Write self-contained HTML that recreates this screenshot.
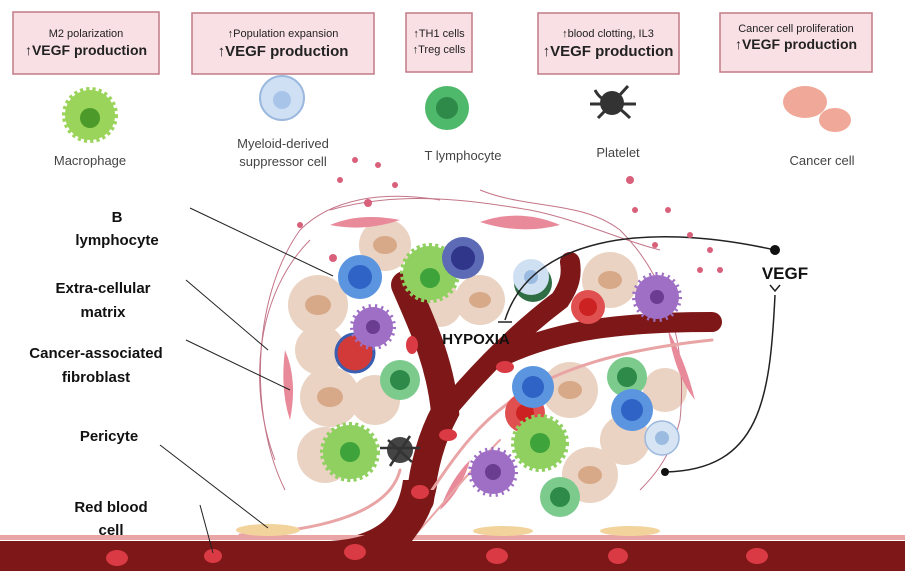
<!DOCTYPE html>
<html><head><meta charset="utf-8"><style>
body{margin:0;background:#fff}
svg{display:block;font-family:"Liberation Sans",sans-serif}
</style></head><body>
<svg width="905" height="571" viewBox="0 0 905 571" xmlns="http://www.w3.org/2000/svg">
<rect width="905" height="571" fill="#fff"/>
<g fill="#f9e0e4" stroke="#c27a86" stroke-width="1.5">
<rect x="13" y="12" width="146" height="62"/>
<rect x="192" y="13" width="182" height="61"/>
<rect x="406" y="13" width="66" height="59"/>
<rect x="538" y="13" width="141" height="61"/>
<rect x="720" y="13" width="152" height="59"/>
</g>
<g text-anchor="middle" fill="#222">
<text x="86" y="37" font-size="11">M2 polarization</text>
<text x="86" y="55" font-size="14" font-weight="bold">↑VEGF production</text>
<text x="283" y="37" font-size="11">↑Population expansion</text>
<text x="283" y="56" font-size="15" font-weight="bold">↑VEGF production</text>
<text x="439" y="37" font-size="11">↑TH1 cells</text>
<text x="439" y="53" font-size="11">↑Treg cells</text>
<text x="608" y="37" font-size="11">↑blood clotting, IL3</text>
<text x="608" y="56" font-size="15" font-weight="bold">↑VEGF production</text>
<text x="796" y="32" font-size="11">Cancer cell proliferation</text>
<text x="796" y="49" font-size="14" font-weight="bold">↑VEGF production</text>
<text x="90" y="165" font-size="13" fill="#444">Macrophage</text>
<text x="283" y="148" font-size="13" fill="#444">Myeloid-derived</text>
<text x="283" y="166" font-size="13" fill="#444">suppressor cell</text>
<text x="463" y="160" font-size="13" fill="#444">T lymphocyte</text>
<text x="618" y="157" font-size="13" fill="#444">Platelet</text>
<text x="822" y="165" font-size="13" fill="#444">Cancer cell</text>
</g>
<!-- top icons -->
<circle cx="90" cy="115" r="25" fill="#9bd45a" stroke="#9bd45a" stroke-width="6" stroke-dasharray="3 3"/><circle cx="90" cy="118" r="10" fill="#4c9a2a"/>
<circle cx="282" cy="98" r="22" fill="#cfe0f5" stroke="#9bb8de" stroke-width="2"/><circle cx="282" cy="100" r="9" fill="#a8c4e8"/>
<circle cx="447" cy="108" r="22" fill="#4eb86b"/><circle cx="447" cy="108" r="11" fill="#2e8a48"/>
<circle cx="612" cy="103" r="12" fill="#333"/>
<g stroke="#333" stroke-width="3" fill="none"><path d="M595 90 Q600 100 612 103 Q622 110 630 118"/><path d="M598 118 Q606 110 612 103 Q620 95 628 86"/><path d="M590 104 H636"/></g>
<ellipse cx="805" cy="102" rx="22" ry="16" fill="#f0a898"/><ellipse cx="835" cy="120" rx="16" ry="12" fill="#f0a898"/>
<!-- beige tumor cells -->
<g fill="#ead3c3">
<circle cx="385" cy="245" r="26"/><circle cx="318" cy="305" r="30"/><circle cx="320" cy="350" r="25"/><circle cx="330" cy="397" r="30"/>
<circle cx="325" cy="455" r="28"/><circle cx="480" cy="300" r="25"/><circle cx="440" cy="305" r="22"/><circle cx="610" cy="280" r="28"/>
<circle cx="570" cy="390" r="28"/><circle cx="590" cy="475" r="28"/><circle cx="625" cy="440" r="25"/><circle cx="375" cy="400" r="25"/><circle cx="665" cy="390" r="22"/>
</g>
<g fill="#d8a988">
<ellipse cx="385" cy="245" rx="12" ry="9"/><ellipse cx="318" cy="305" rx="13" ry="10"/><ellipse cx="330" cy="397" rx="13" ry="10"/><ellipse cx="610" cy="280" rx="12" ry="9"/><ellipse cx="570" cy="390" rx="12" ry="9"/><ellipse cx="590" cy="475" rx="12" ry="9"/><ellipse cx="480" cy="300" rx="11" ry="8"/>
</g>
<!-- ECM fibers -->
<g fill="none" stroke="#b5536b" stroke-width="1" opacity="0.8">
<path d="M285 490 C250 420 250 300 300 230 C330 200 380 190 440 200"/>
<path d="M275 460 C245 380 260 290 310 240"/>
<path d="M330 210 C400 190 470 200 530 210 C580 220 620 240 660 250"/>
<path d="M480 190 C530 210 580 200 620 230 C650 260 690 320 680 420 C670 460 650 480 640 490"/>
</g>
<g fill="#e98a9b">
<path d="M330 225 Q360 212 400 220 Q365 232 330 225Z"/><path d="M480 222 Q520 208 560 225 Q520 235 480 222Z"/>
<path d="M285 350 Q298 380 290 420 Q280 390 285 350Z"/><path d="M668 330 Q685 360 695 400 Q675 375 668 330Z"/>
<path d="M440 510 Q450 480 470 460 Q462 490 440 510Z"/>
</g>
<!-- vessels -->
<path d="M330 540 C380 535 398 515 403 480 L438 480 C434 510 420 525 412 540 Z" fill="#7e1717"/>
<g fill="none" stroke-linecap="round">
<path d="M420 500 C423 470 430 440 445 412 C440 360 420 320 405 285" stroke="#7e1717" stroke-width="28"/>
<path d="M445 412 C480 370 520 330 560 300 C570 285 572 275 570 262" stroke="#7e1717" stroke-width="20"/>
<path d="M505 355 C560 330 620 322 712 322" stroke="#7e1717" stroke-width="20"/>
<path d="M432 490 C480 420 520 360 712 340" stroke="#e9a5a5" stroke-width="3"/>
<path d="M400 470 C390 510 330 530 240 535" stroke="#e9a5a5" stroke-width="3"/>
<path d="M412 538 C430 520 470 470 500 440" stroke="#e9a5a5" stroke-width="2"/>
</g>
<rect x="0" y="541" width="905" height="30" fill="#7e1717"/>
<rect x="0" y="535" width="905" height="5" fill="#e9a5a5"/>
<path d="M330 541 C380 538 398 520 405 490 L436 490 C432 515 420 530 412 541 Z" fill="#7e1717"/>
<g fill="#d93a44">
<ellipse cx="117" cy="558" rx="11" ry="8"/><ellipse cx="213" cy="556" rx="9" ry="7"/><ellipse cx="355" cy="552" rx="11" ry="8"/><ellipse cx="497" cy="556" rx="11" ry="8"/><ellipse cx="618" cy="556" rx="10" ry="8"/><ellipse cx="757" cy="556" rx="11" ry="8"/>
<ellipse cx="420" cy="492" rx="9" ry="7"/><ellipse cx="448" cy="435" rx="9" ry="6"/><ellipse cx="412" cy="345" rx="6" ry="9"/><ellipse cx="505" cy="367" rx="9" ry="6"/>
</g>
<ellipse cx="268" cy="530" rx="32" ry="6" fill="#f2d39b"/>
<ellipse cx="503" cy="531" rx="30" ry="5" fill="#f2d39b"/>
<ellipse cx="630" cy="531" rx="30" ry="5" fill="#f2d39b"/>
<!-- cells -->
<circle cx="360" cy="277" r="22" fill="#5b95e0"/><circle cx="360" cy="277" r="12" fill="#2f63c5"/>
<circle cx="430" cy="273" r="27" fill="#8fd060" stroke="#8fd060" stroke-width="6" stroke-dasharray="3 3"/><circle cx="430" cy="278" r="10" fill="#3da33a"/>
<circle cx="463" cy="258" r="21" fill="#5d6ab5"/><circle cx="463" cy="258" r="12" fill="#30368a"/>
<circle cx="533" cy="283" r="19" fill="#2f6e45"/><circle cx="531" cy="277" r="18" fill="#cfe0f2"/><circle cx="531" cy="277" r="7" fill="#9bbce0"/>
<circle cx="588" cy="307" r="17" fill="#e05050"/><circle cx="588" cy="307" r="9" fill="#cc2222"/>
<circle cx="657" cy="297" r="22" fill="#9e6fc4" stroke="#9e6fc4" stroke-width="6" stroke-dasharray="2 4"/><circle cx="657" cy="297" r="7" fill="#6a3d91"/>
<circle cx="355" cy="353" r="19" fill="#d23a3a" stroke="#3a5fb0" stroke-width="3"/>
<circle cx="373" cy="327" r="20" fill="#9e6fc4" stroke="#9e6fc4" stroke-width="6" stroke-dasharray="2 4"/><circle cx="373" cy="327" r="7" fill="#6a3d91"/>
<circle cx="400" cy="380" r="20" fill="#7ccb8d"/><circle cx="400" cy="380" r="10" fill="#2e8a48"/>
<circle cx="350" cy="452" r="27" fill="#8fd060" stroke="#8fd060" stroke-width="6" stroke-dasharray="3 3"/><circle cx="350" cy="452" r="10" fill="#3da33a"/>
<circle cx="400" cy="450" r="13" fill="#444"/>
<g stroke="#333" stroke-width="2.5" fill="none"><path d="M380 448 H420"/><path d="M388 440 L412 462"/><path d="M410 436 L390 466"/></g>
<circle cx="525" cy="413" r="20" fill="#e05050"/><circle cx="525" cy="413" r="9" fill="#cc2222"/>
<circle cx="533" cy="387" r="21" fill="#5b95e0"/><circle cx="533" cy="387" r="11" fill="#2f63c5"/>
<circle cx="540" cy="443" r="26" fill="#8fd060" stroke="#8fd060" stroke-width="6" stroke-dasharray="3 3"/><circle cx="540" cy="443" r="10" fill="#3da33a"/>
<circle cx="493" cy="472" r="22" fill="#9e6fc4" stroke="#9e6fc4" stroke-width="6" stroke-dasharray="2 4"/><circle cx="493" cy="472" r="8" fill="#6a3d91"/>
<circle cx="560" cy="497" r="20" fill="#7ccb8d"/><circle cx="560" cy="497" r="10" fill="#2e8a48"/>
<circle cx="627" cy="377" r="20" fill="#7ccb8d"/><circle cx="627" cy="377" r="10" fill="#2e8a48"/>
<circle cx="632" cy="410" r="21" fill="#5b95e0"/><circle cx="632" cy="410" r="11" fill="#2f63c5"/>
<circle cx="662" cy="438" r="17" fill="#d6e4f4" stroke="#9bb8de" stroke-width="1.5"/><circle cx="662" cy="438" r="7" fill="#9bbce0"/>
<!-- labels -->
<g font-size="15" font-weight="bold" fill="#111" text-anchor="middle">
<text x="117" y="222">B</text><text x="117" y="245">lymphocyte</text>
<text x="103" y="293">Extra-cellular</text><text x="103" y="317">matrix</text>
<text x="96" y="358">Cancer-associated</text><text x="96" y="382">fibroblast</text>
<text x="109" y="441">Pericyte</text>
<text x="111" y="512">Red blood</text><text x="111" y="535">cell</text>
<text x="476" y="344">HYPOXIA</text>
<text x="785" y="279" font-size="17">VEGF</text>
</g>
<g fill="none" stroke="#222" stroke-width="1">
<path d="M190 208 L333 276"/><path d="M186 280 L268 350"/><path d="M186 340 L290 390"/>
<path d="M160 445 L268 528"/><path d="M200 505 L213 553"/>
<path d="M505 320 C530 240 640 220 775 250" stroke-width="1.5"/>
<path d="M498 322 H512" stroke-width="1.5"/>
<path d="M775 295 C770 400 760 470 665 472" stroke-width="1.5"/>
<path d="M770 285 l5 6 l5 -6" stroke-width="1.5"/>
</g>
<circle cx="775" cy="250" r="5" fill="#111"/><circle cx="665" cy="472" r="4" fill="#111"/>
<g fill="#d9607a">
<circle cx="355" cy="160" r="3"/><circle cx="378" cy="165" r="3"/><circle cx="340" cy="180" r="3"/><circle cx="630" cy="180" r="4"/><circle cx="690" cy="235" r="3"/><circle cx="700" cy="270" r="3"/><circle cx="668" cy="210" r="3"/><circle cx="710" cy="250" r="3"/>
<circle cx="368" cy="203" r="4"/><circle cx="300" cy="225" r="3"/><circle cx="333" cy="258" r="4"/><circle cx="655" cy="245" r="3"/><circle cx="720" cy="270" r="3"/><circle cx="635" cy="210" r="3"/><circle cx="395" cy="185" r="3"/>
</g>
</svg>
</body></html>
